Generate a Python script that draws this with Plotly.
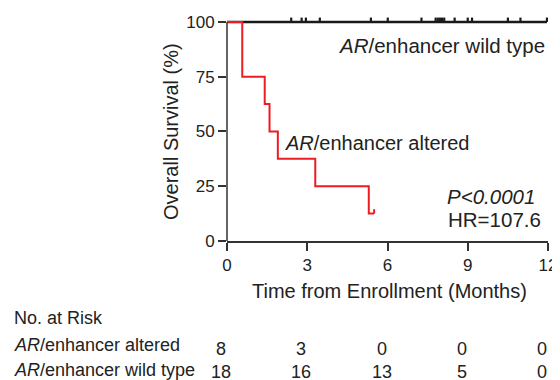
import plotly.graph_objects as go

# ---- data ----
altered_times = [0, 0.57, 1.41, 1.59, 1.9, 3.3, 5.3, 5.5]
altered_surv = [100, 75, 62.5, 50, 37.5, 25, 12.5, 12.5]
altered_censor = [5.5]
altered_censor_surv = [12.5]

wild_times = [0, 11.96]
wild_surv = [100, 100]
wild_censor = [2.40, 2.79, 2.95, 3.47, 5.38, 6.01, 7.27, 7.8, 7.88, 7.96, 8.04, 8.12,
               8.51, 9.0, 9.16, 10.5, 10.97, 11.96]

x_ticks = [0, 3, 6, 9, 12]
y_ticks = [0, 25, 50, 75, 100]
risk_altered = [8, 3, 0, 0, 0]
risk_wild = [18, 16, 13, 5, 0]

RED = "#ed1c24"
BLACK = "#1a1a1a"
TXT = "#222222"
FONT = "Liberation Sans, Arial, sans-serif"
TICK_H = 2.0


def censor_segments(times, levels):
    xs, ys = [], []
    for t, s in zip(times, levels):
        xs += [t, t, None]
        ys += [s, s + TICK_H, None]
    return xs, ys


fig = go.Figure()

# wild type
fig.add_trace(go.Scatter(x=wild_times, y=wild_surv, mode="lines", line=dict(color=BLACK, width=2.5),
                         line_shape="hv", hoverinfo="skip"))
wx, wy = censor_segments(wild_censor, [100] * len(wild_censor))
fig.add_trace(go.Scatter(x=wx, y=wy, mode="lines", line=dict(color=BLACK, width=2.2), hoverinfo="skip"))

# altered
fig.add_trace(go.Scatter(x=altered_times, y=altered_surv, mode="lines", line=dict(color=RED, width=2),
                         line_shape="hv", hoverinfo="skip"))
ax_, ay_ = censor_segments(altered_censor, altered_censor_surv)
fig.add_trace(go.Scatter(x=ax_, y=ay_, mode="lines", line=dict(color=RED, width=2), hoverinfo="skip"))

# page body has an 8px margin: screen coords = figure coords + 8
OFF = 8
W, H = 560 - OFF, 380 - OFF
L, R, T, B = 227 - OFF, 9, 11 - OFF, 139
PW = W - L - R
PH = H - T - B


def px(xs):
    return (xs - OFF - L) / PW


def py(ys):
    return (H - B - (ys - OFF)) / PH


fig.update_layout(
    width=W, height=H,
    margin=dict(l=L, r=R, t=T, b=B),
    paper_bgcolor="white", plot_bgcolor="white",
    showlegend=False,
    font=dict(family=FONT, color=TXT, size=17),
    xaxis=dict(range=[0, 12], tickvals=x_ticks, ticktext=[str(v) for v in x_ticks],
               showgrid=False, zeroline=False, showline=True, linecolor="#333333", linewidth=1.5,
               ticks="outside", ticklen=8, tickwidth=1.5, tickcolor="#333333",
               ticklabeloverflow="allow",
               tickfont=dict(size=17, color=TXT, family=FONT)),
    yaxis=dict(range=[0, 105], tickvals=y_ticks, ticktext=[str(v) for v in y_ticks],
               showgrid=False, zeroline=False, showline=False,
               ticks="outside", ticklen=8, tickwidth=1.5, tickcolor="#333333",
               tickfont=dict(size=17, color=TXT, family=FONT)),
)

# y-axis line from 0 to 100 only
fig.add_shape(type="line", xref="paper", yref="y", x0=0, x1=0, y0=0, y1=100,
              line=dict(color="#333333", width=1.5))

ann = []
ann.append(dict(text="Overall Survival (%)", textangle=-90, xref="paper", yref="paper",
                x=px(170), y=py(131.5), xanchor="center", yanchor="middle", showarrow=False,
                font=dict(size=20)))
ann.append(dict(text="Time from Enrollment (Months)", xref="paper", yref="paper",
                x=px(391), y=py(291), xanchor="center", yanchor="middle", showarrow=False,
                font=dict(size=20)))
ann.append(dict(text="<i>AR</i>/enhancer wild type", xref="paper", yref="paper",
                x=px(550), y=py(45), xanchor="right", yanchor="middle", showarrow=False,
                font=dict(size=20.5)))
ann.append(dict(text="<i>AR</i>/enhancer altered", xref="paper", yref="paper",
                x=px(284), y=py(143), xanchor="left", yanchor="middle", showarrow=False,
                font=dict(size=20)))
ann.append(dict(text="<i>P<0.0001</i>", xref="paper", yref="paper",
                x=px(447), y=py(196), xanchor="left", yanchor="middle", showarrow=False,
                font=dict(size=20.5)))
ann.append(dict(text="HR=107.6", xref="paper", yref="paper",
                x=px(448), y=py(219), xanchor="left", yanchor="middle", showarrow=False,
                font=dict(size=20.5)))

ann.append(dict(text="No. at Risk", xref="paper", yref="paper",
                x=px(10), y=py(318), xanchor="left", yanchor="middle", showarrow=False,
                font=dict(size=18)))
ann.append(dict(text="<i>AR</i>/enhancer altered", xref="paper", yref="paper",
                x=px(10), y=py(345), xanchor="left", yanchor="middle", showarrow=False,
                font=dict(size=18)))
ann.append(dict(text="<i>AR</i>/enhancer wild type", xref="paper", yref="paper",
                x=px(10), y=py(370), xanchor="left", yanchor="middle", showarrow=False,
                font=dict(size=18)))
for t, a, w in zip(x_ticks, risk_altered, risk_wild):
    ann.append(dict(text=str(a), xref="x", yref="paper", x=t, y=py(349), xshift=-6,
                    xanchor="center", yanchor="middle", showarrow=False, font=dict(size=18)))
    ann.append(dict(text=str(w), xref="x", yref="paper", x=t, y=py(371.5), xshift=-6,
                    xanchor="center", yanchor="middle", showarrow=False, font=dict(size=18)))

fig.update_layout(annotations=ann)

fig.write_html("out.html")
